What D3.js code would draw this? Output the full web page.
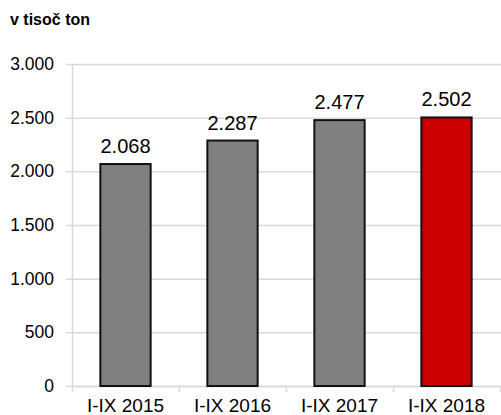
<!DOCTYPE html>
<html>
<head>
<meta charset="utf-8">
<script src="https://cdn.jsdelivr.net/npm/d3@7"></script>
<style>
  body { margin: 0; background: #fff; }
  text { font-family: Arial, "Liberation Sans", sans-serif; fill: #000; }
</style>
</head>
<body>
<div id="chart"></div>
<script>
var categories = ["I-IX 2015", "I-IX 2016", "I-IX 2017", "I-IX 2018"];
var values = [2068, 2287, 2477, 2502];
var barColors = ["#808080", "#808080", "#808080", "#cc0000"];
var yTicks = [0, 500, 1000, 1500, 2000, 2500, 3000];
var unitLabel = "v tisoč ton";

var margin = {top: 64, right: 0, bottom: 29, left: 72},
    width = 501 - margin.left - margin.right,
    height = 415 - margin.top - margin.bottom;

var svg = d3.select("#chart").append("svg")
    .attr("width", 501)
    .attr("height", 415);

var g = svg.append("g")
    .attr("transform", "translate(" + margin.left + "," + margin.top + ")");

var x = d3.scaleBand()
    .domain(categories)
    .range([0, 428])
    .paddingInner(0.53)
    .paddingOuter(0.265);

var y = d3.scaleLinear().domain([0, 3000]).range([height, 0]);

var fmt = function (v) {
    return d3.format(",")(v).replace(/,/g, ".");
};

// gridlines
g.selectAll(".grid")
    .data(yTicks)
    .enter().append("line")
    .attr("class", "grid")
    .attr("x1", -6)
    .attr("x2", width)
    .attr("y1", d => y(d) + 0.5)
    .attr("y2", d => y(d) + 0.5)
    .style("stroke", "#d9d9d9")
    .style("stroke-width", 1.5);

// y axis line
g.append("line")
    .attr("x1", 0.5).attr("x2", 0.5)
    .attr("y1", 0).attr("y2", height)
    .style("stroke", "#d9d9d9")
    .style("stroke-width", 1.5);

// y labels
g.selectAll(".ylab")
    .data(yTicks)
    .enter().append("text")
    .attr("class", "ylab")
    .attr("x", -18)
    .attr("y", d => y(d))
    .attr("dy", "0.35em")
    .style("text-anchor", "end")
    .style("font-size", "17.5px")
    .text(fmt);

// x axis
var xAxis = d3.axisBottom(x).tickSize(0).tickFormat("");
g.append("g")
    .attr("transform", "translate(0," + height + ")")
    .call(xAxis)
    .call(s => s.select(".domain").style("stroke", "#d9d9d9").style("stroke-width", 1.5));

// category separators
var step = x.step();
g.selectAll(".sep")
    .data(d3.range(categories.length + 1))
    .enter().append("line")
    .attr("x1", d => d * step + 0.5)
    .attr("x2", d => d * step + 0.5)
    .attr("y1", height)
    .attr("y2", height + 6)
    .style("stroke", "#d9d9d9")
    .style("stroke-width", 1.5);

g.selectAll(".xlab")
    .data(categories)
    .enter().append("text")
    .attr("class", "xlab")
    .attr("x", d => x(d) + x.bandwidth() / 2)
    .attr("y", height + 26)
    .style("text-anchor", "middle")
    .style("font-size", "19px")
    .text(d => d);

// bars
g.selectAll(".bar")
    .data(values)
    .enter().append("rect")
    .attr("class", "bar")
    .attr("x", (d, i) => x(categories[i]))
    .attr("y", d => y(d))
    .attr("width", x.bandwidth())
    .attr("height", d => height - y(d))
    .style("fill", (d, i) => barColors[i])
    .style("stroke", "#111")
    .style("stroke-width", 2);

// value labels
g.selectAll(".val")
    .data(values)
    .enter().append("text")
    .attr("class", "val")
    .attr("x", (d, i) => x(categories[i]) + x.bandwidth() / 2)
    .attr("y", d => y(d) - 11)
    .style("text-anchor", "middle")
    .style("font-size", "20px")
    .text(fmt);

svg.append("text")
    .attr("x", 10)
    .attr("y", 25)
    .style("font-size", "16px")
    .style("font-weight", "bold")
    .text(unitLabel);
</script>
</body>
</html>
